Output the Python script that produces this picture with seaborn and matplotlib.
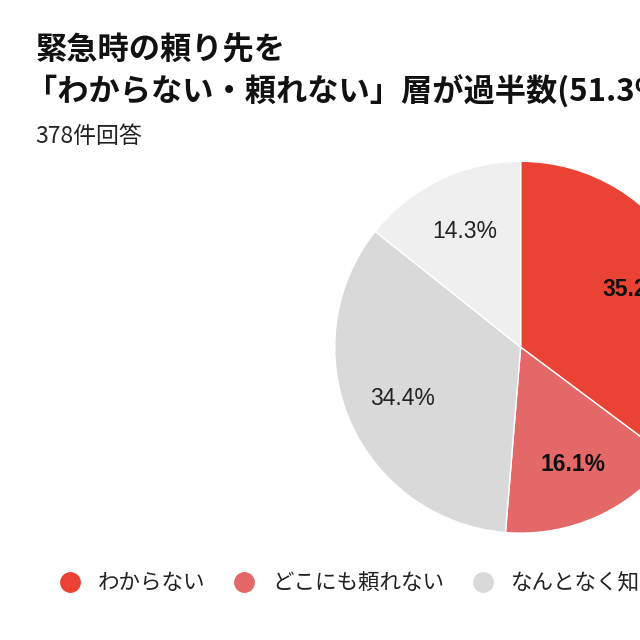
import matplotlib
matplotlib.use('Agg')
import seaborn as sns
from matplotlib import pyplot as plt
from matplotlib.lines import Line2D

labels = ['わからない', 'どこにも頼れない', 'なんとなく知っている', '知っている']
shares = [35.2, 16.1, 34.4, 14.3]
colors = ['#EA4335', '#E46868', '#D9D9D9', '#EFEFEF']
title = '緊急時の頼り先を\n「わからない・頼れない」層が過半数(51.3%)'
subtitle = '378件回答'

sns.set_theme(style='white')
plt.rcParams['font.family'] = ['Noto Sans CJK JP', 'DejaVu Sans']

fig = plt.figure(figsize=(6.4, 6.4), dpi=100)
fig.patch.set_facecolor('white')

# pie axes deliberately runs off the right edge, like the cropped original
ax = fig.add_axes([0.523, 0.167, 0.581, 0.581])
wedges, texts, autotexts = ax.pie(
    shares, colors=colors, startangle=90, counterclock=False,
    autopct='%.1f%%', pctdistance=0.69,
    wedgeprops=dict(edgecolor='white', linewidth=1),
    textprops=dict(fontsize=16.5, color='#222222'))
for t in autotexts:
    t.set_family(['Liberation Sans', 'DejaVu Sans'])
for t in autotexts[:2]:
    t.set_fontweight('bold')
    t.set_color('#111111')
ax.set_xlim(-1, 1)
ax.set_ylim(-1, 1)
ax.set_aspect('equal')

line1, line2 = title.split('\n')
fig.text(0.055, 0.921, line1, fontsize=22.5, fontweight='bold',
         color='#111111', va='center', ha='left')
fig.text(0.040, 0.856, line2, fontsize=22.5, fontweight='bold',
         color='#111111', va='center', ha='left')
fig.text(0.055, 0.786, subtitle, fontsize=16.5, color='#222222', va='center', ha='left')

handles = [Line2D([], [], marker='o', linestyle='', markersize=14,
                  markerfacecolor=c, markeredgecolor=c) for c in colors]
fig.legend(handles, labels, loc='center left', bbox_to_anchor=(0.045, 0.089),
           ncol=4, frameon=False, fontsize=15.5, handletextpad=0.3,
           columnspacing=0.8, labelcolor='#222222')

plt.savefig('out.png', dpi=100)
plt.close()
